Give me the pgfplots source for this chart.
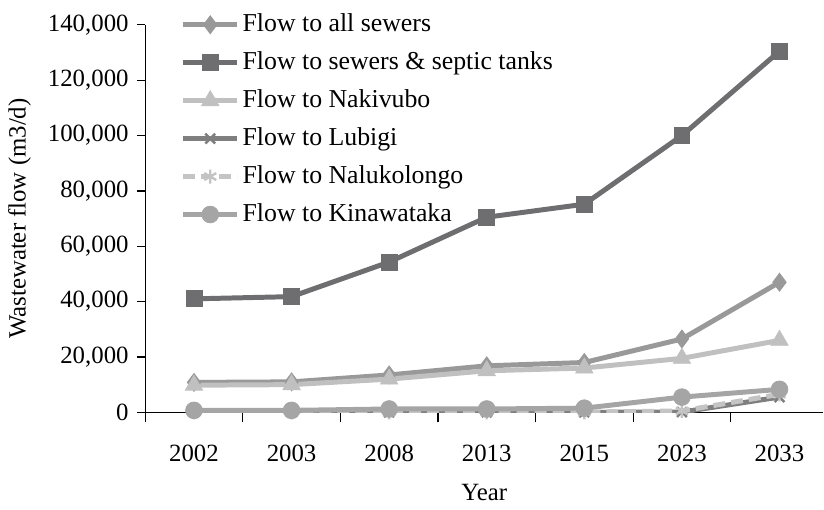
\documentclass[border=0pt]{standalone}
\usepackage{fontspec}
\setmainfont{Liberation Serif}
\usepackage{pgfplots}
\pgfplotsset{compat=1.18}
\definecolor{cA}{HTML}{999999}
\definecolor{cB}{HTML}{6E6E70}
\definecolor{cC}{HTML}{C0C0C0}
\definecolor{cD}{HTML}{7F7F7F}
\definecolor{cE}{HTML}{C4C4C4}
\definecolor{cF}{HTML}{A5A5A5}
\begin{document}
\fontsize{12.5}{15}\selectfont
\begin{tikzpicture}
\begin{axis}[
 name=ax,
 scale only axis, width=340.5bp, height=194.5bp,
 xmin=-0.5, xmax=6.45, ymin=0, ymax=140000,
 axis x line=bottom, axis y line=left,
 axis line style={-, black, line width=0.6bp},
 xtick={0,...,6}, xticklabels={2002,2003,2008,2013,2015,2023,2033},
 major x tick style={draw=none},
 minor xtick={-0.5,0.5,...,5.5},
 minor tick length=5bp,
 x tick label style={yshift=-8bp},
 ytick={0,20000,...,140000},
 major tick length=4bp,
 tick align=outside,
 tick style={black, line width=0.6bp},
 scaled y ticks=false,
 y tick label style={/pgf/number format/.cd, fixed, 1000 sep={,}},
 /pgf/number format/assume math mode=true,
 tick label style={font=\fontsize{12.5}{15}\selectfont},
 label style={font=\fontsize{12.5}{15}\selectfont},
 xlabel={Year}, ylabel={Wastewater flow (m3/d)},
 xlabel style={yshift=-3bp},
 legend style={at={(rel axis cs:0.052,1.037)}, anchor=north west, draw=none, fill=none, inner sep=0pt, row sep=5.2bp, font=\fontsize{13}{15.5}\selectfont, nodes={inner sep=1.5bp}},
 legend cell align=left,
 legend image code/.code={\draw[mark repeat=2,mark phase=2,#1] plot coordinates {(0bp,0bp) (13.5bp,0bp) (27bp,0bp)};},
 every axis plot/.append style={line width=2.5bp},
]
\addplot[cA, mark=diamond*, mark size=4.5bp, mark options={solid, line width=0.4bp}] coordinates {(0,10800) (1,11000) (2,13500) (3,16800) (4,18000) (5,26500) (6,47000)};
\addlegendentry{Flow to all sewers}
\addplot[cB, mark=square*, mark size=4bp, mark options={solid, line width=0.4bp}] coordinates {(0,41000) (1,41800) (2,54300) (3,70500) (4,75200) (5,100000) (6,130500)};
\addlegendentry{Flow to sewers \& septic tanks}
\addplot[cC, mark=triangle*, mark size=5bp, mark options={solid, line width=0.4bp}] coordinates {(0,9800) (1,10000) (2,12000) (3,15000) (4,16000) (5,19500) (6,26000)};
\addlegendentry{Flow to Nakivubo}
\addplot[cD, mark=x, mark size=3.5bp, mark options={solid, line width=1.2bp}] coordinates {(0,0) (1,0) (2,0) (3,0) (4,0) (5,100) (6,5500)};
\addlegendentry{Flow to Lubigi}
\addplot[cE, dashed, dash pattern=on 6bp off 3bp, mark=asterisk, mark size=3.5bp, mark options={solid, line width=1.2bp}] coordinates {(0,0) (1,0) (2,0) (3,0) (4,0) (5,500) (6,6500)};
\addlegendentry{Flow to Nalukolongo}
\addplot[cF, mark=*, mark size=4.2bp, mark options={solid, line width=0.4bp}] coordinates {(0,700) (1,700) (2,1200) (3,1200) (4,1500) (5,5500) (6,8300)};
\addlegendentry{Flow to Kinawataka}
\end{axis}
\path (ax.north west) ++(0,12.5bp);
\end{tikzpicture}
\end{document}
